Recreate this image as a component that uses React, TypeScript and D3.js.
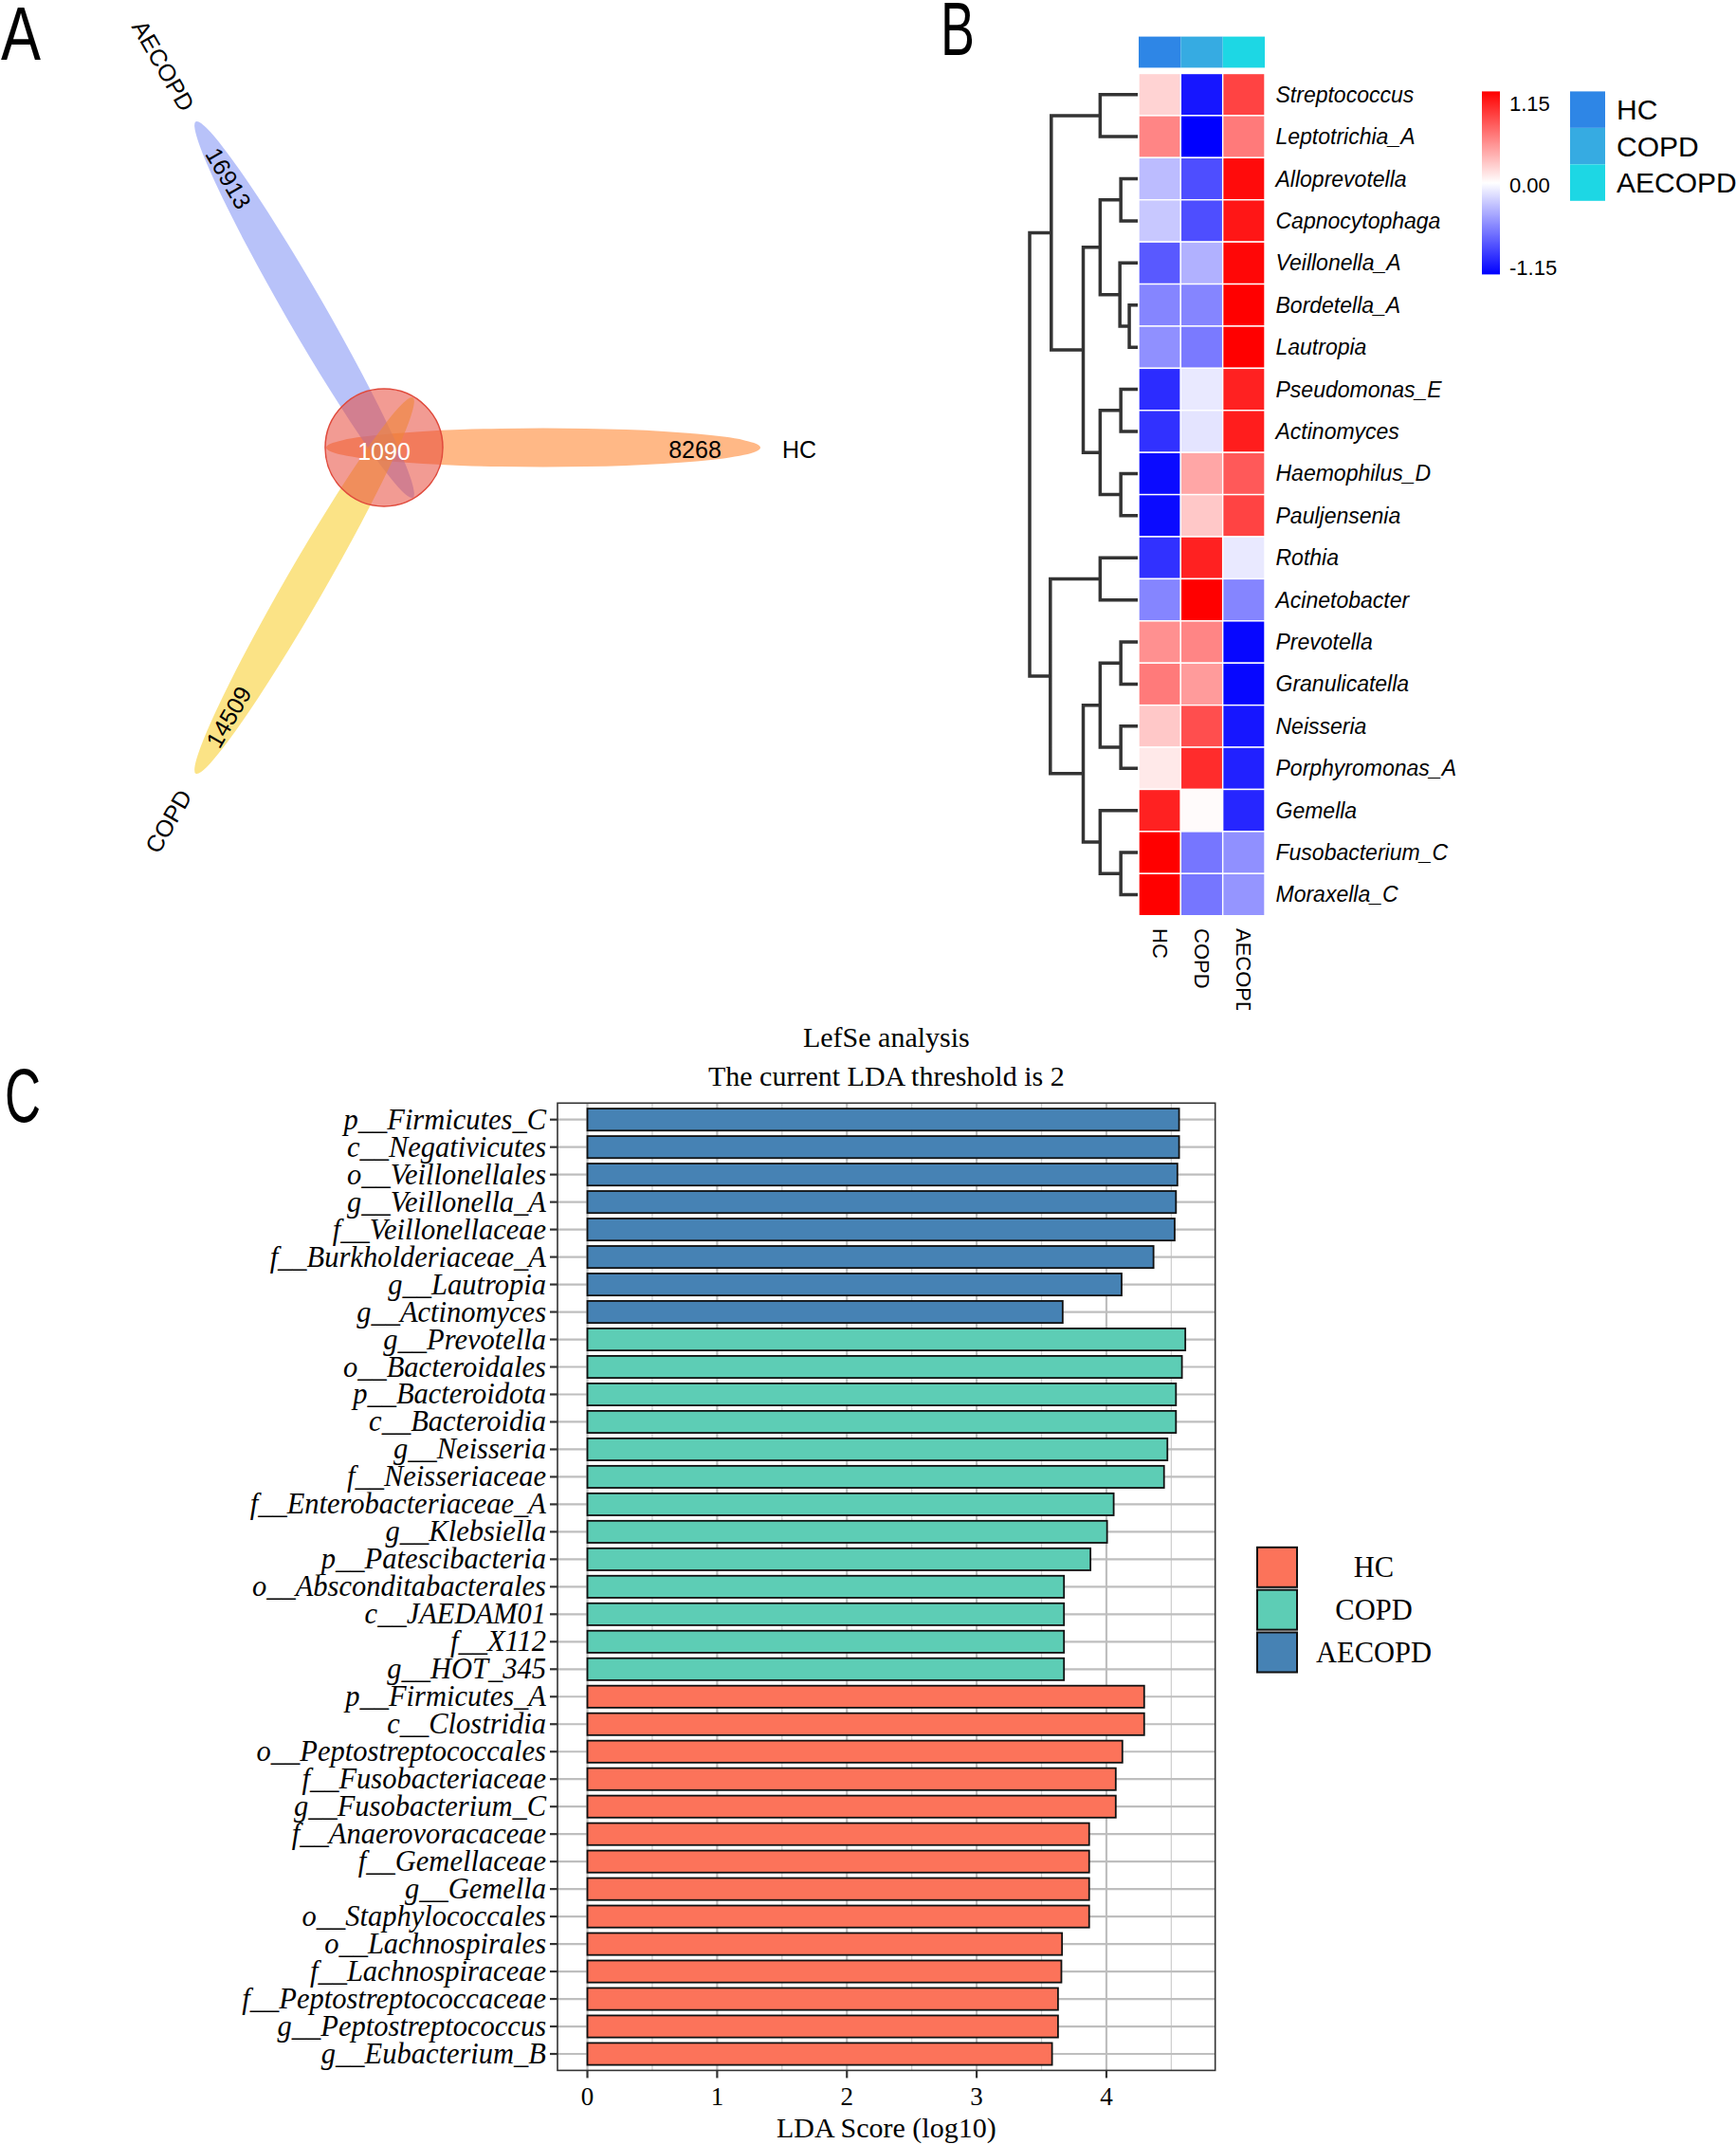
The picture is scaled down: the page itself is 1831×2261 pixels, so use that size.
import React from 'react';
import * as d3 from 'd3';

// ---------- Panel A: flower Venn ----------
const vennSets = ['HC', 'AECOPD', 'COPD'];
const vennUnique = [8268, 16913, 14509];
const vennAngles = [0, 240, 120];
const vennCore = 1090;
const vennFills = ['#FF8C3C', '#8C9CF5', '#F9D23C'];

// ---------- Panel B: heatmap ----------
const genera = [
  'Streptococcus', 'Leptotrichia_A', 'Alloprevotella', 'Capnocytophaga', 'Veillonella_A',
  'Bordetella_A', 'Lautropia', 'Pseudomonas_E', 'Actinomyces', 'Haemophilus_D',
  'Pauljensenia', 'Rothia', 'Acinetobacter', 'Prevotella', 'Granulicatella',
  'Neisseria', 'Porphyromonas_A', 'Gemella', 'Fusobacterium_C', 'Moraxella_C',
];
const heatGroups = ['HC', 'COPD', 'AECOPD'];
const hcZ = [0.2, 0.55, -0.3, -0.25, -0.75, -0.55, -0.5, -0.95, -0.93, -1.1, -1.1, -0.93, -0.55, 0.5, 0.6, 0.25, 0.1, 1.0, 1.15, 1.15];
const copdZ = [-1.05, -1.15, -0.8, -0.8, -0.35, -0.55, -0.6, -0.1, -0.12, 0.4, 0.25, 1.0, 1.15, 0.55, 0.45, 0.8, 0.95, 0.02, -0.62, -0.62];
const aecopdZ = [0.85, 0.6, 1.1, 1.05, 1.12, 1.15, 1.15, 1.0, 1.02, 0.75, 0.85, -0.1, -0.55, -1.12, -1.12, -1.05, -1.0, -0.98, -0.5, -0.48];
const groupColors = ['#2E86E6', '#36ABE2', '#1DD7E4'];
const colorbarTicks = [1.15, 0, -1.15];
const colorbarLabels = ['1.15', '0.00', '-1.15'];
// [left, right, height]; merges named m0..m18 in order
const dendroMerges: [string, string, number][] = [
  ['Streptococcus', 'Leptotrichia_A', 40],
  ['Alloprevotella', 'Capnocytophaga', 18],
  ['Bordetella_A', 'Lautropia', 9],
  ['Veillonella_A', 'm2', 19],
  ['m1', 'm3', 40],
  ['Pseudomonas_E', 'Actinomyces', 18],
  ['Haemophilus_D', 'Pauljensenia', 18],
  ['m5', 'm6', 40],
  ['m4', 'm7', 58],
  ['m0', 'm8', 92],
  ['Rothia', 'Acinetobacter', 40],
  ['Prevotella', 'Granulicatella', 18],
  ['Neisseria', 'Porphyromonas_A', 18],
  ['m11', 'm12', 40],
  ['Fusobacterium_C', 'Moraxella_C', 18],
  ['Gemella', 'm14', 40],
  ['m13', 'm15', 58],
  ['m10', 'm16', 93],
  ['m9', 'm17', 115],
];

// ---------- Panel C: LEfSe ----------
const lefseTaxa = [
  'p__Firmicutes_C', 'c__Negativicutes', 'o__Veillonellales', 'g__Veillonella_A', 'f__Veillonellaceae',
  'f__Burkholderiaceae_A', 'g__Lautropia', 'g__Actinomyces',
  'g__Prevotella', 'o__Bacteroidales', 'p__Bacteroidota', 'c__Bacteroidia', 'g__Neisseria',
  'f__Neisseriaceae', 'f__Enterobacteriaceae_A', 'g__Klebsiella', 'p__Patescibacteria',
  'o__Absconditabacterales', 'c__JAEDAM01', 'f__X112', 'g__HOT_345',
  'p__Firmicutes_A', 'c__Clostridia', 'o__Peptostreptococcales', 'f__Fusobacteriaceae',
  'g__Fusobacterium_C', 'f__Anaerovoracaceae', 'f__Gemellaceae', 'g__Gemella',
  'o__Staphylococcales', 'o__Lachnospirales', 'f__Lachnospiraceae', 'f__Peptostreptococcaceae',
  'g__Peptostreptococcus', 'g__Eubacterium_B',
];
const lefseScores = [
  4.56, 4.56, 4.547, 4.536, 4.526, 4.363, 4.117, 3.663,
  4.608, 4.582, 4.536, 4.536, 4.47, 4.444, 4.056, 4.005, 3.877,
  3.673, 3.673, 3.673, 3.673,
  4.291, 4.291, 4.123, 4.072, 4.072, 3.867, 3.867, 3.867, 3.867,
  3.658, 3.653, 3.627, 3.627, 3.581,
];
const lefseGroups = [
  ...Array(8).fill('AECOPD'),
  ...Array(13).fill('COPD'),
  ...Array(14).fill('HC'),
];
const lefseLegend = ['HC', 'COPD', 'AECOPD'];
const lefseColors = ['#FC735A', '#5DCDB5', '#4682B4'];
const ldaTicks = [0, 1, 2, 3, 4];
const ldaMinor = [0.5, 1.5, 2.5, 3.5, 4.5];

const panelLetters = ['A', 'B', 'C'];

const SANS = 'Liberation Sans, Arial, sans-serif';
const SERIF = 'Liberation Serif, Times New Roman, serif';

function VennPanel() {
  const cx = 405, cy = 472;
  const rad = (a: number) => (a * Math.PI) / 180;
  const numDist = 328;
  const labelDist = [438, 465, 455];
  return (
    <g>
      {vennSets.map((s, i) => {
        const a = vennAngles[i];
        const ex = cx + 168 * Math.cos(rad(a));
        const ey = cy + 168 * Math.sin(rad(a));
        return (
          <ellipse key={s} cx={ex} cy={ey} rx={229} ry={20.5}
            transform={`rotate(${a} ${ex} ${ey})`}
            fill={vennFills[i]} fillOpacity={0.62} />
        );
      })}
      <circle cx={cx} cy={cy} r={62} fill="#E8483A" fillOpacity={0.55} stroke="#E04A3C" strokeWidth={1.5} />
      <text x={cx} y={cy + 4} fill="#fff" fontFamily={SANS} fontSize={25} textAnchor="middle" dominantBaseline="central">{vennCore}</text>
      {vennSets.map((s, i) => {
        const a = vennAngles[i];
        const nx = cx + numDist * Math.cos(rad(a));
        const ny = cy + numDist * Math.sin(rad(a));
        const lx = cx + labelDist[i] * Math.cos(rad(a));
        const ly = cy + labelDist[i] * Math.sin(rad(a));
        const rot = a === 0 ? 0 : a === 240 ? 60 : -60;
        return (
          <g key={s}>
            <text x={nx} y={ny + (a === 0 ? 2 : 0)} fontFamily={SANS} fontSize={25} textAnchor="middle" dominantBaseline="central"
              transform={`rotate(${rot} ${nx} ${ny})`}>{vennUnique[i]}</text>
            <text x={lx} y={ly + (a === 0 ? 2 : 0)} fontFamily={SANS} fontSize={25} textAnchor="middle" dominantBaseline="central"
              transform={`rotate(${rot} ${lx} ${ly})`}>{s}</text>
          </g>
        );
      })}
    </g>
  );
}

function HeatmapPanel() {
  const x = d3.scaleBand<string>().domain(heatGroups).range([1201, 1334]);
  const y = d3.scaleBand<string>().domain(genera).range([77.5, 965.7]);
  const color = d3.scaleLinear<string>().domain([-1.15, 0, 1.15]).range(['#0000FF', '#FFFFFF', '#FF0000']);
  const values = [hcZ, copdZ, aecopdZ];
  const hx = d3.scaleLinear().domain([0, 115]).range([1200, 1086]);

  const pos: Record<string, { y: number; h: number }> = {};
  genera.forEach((g) => (pos[g] = { y: (y(g) as number) + y.bandwidth() / 2, h: 0 }));
  const paths: string[] = [];
  dendroMerges.forEach(([l, r, h], i) => {
    const a = pos[l], b = pos[r];
    const xn = hx(h);
    paths.push(`M${hx(a.h)},${a.y}H${xn}V${b.y}H${hx(b.h)}`);
    pos['m' + i] = { y: (a.y + b.y) / 2, h };
  });

  const cbScale = d3.scaleLinear().domain([-1.15, 1.15]).range([282, 109]);
  const legY = d3.scaleBand<string>().domain(heatGroups).range([96.4, 211.8]);

  return (
    <g clipPath="url(#clipB)">
      {heatGroups.map((g, i) => (
        <rect key={'ann' + g} x={x(g)} y={38.6} width={x.bandwidth()} height={32.8} fill={groupColors[i]} />
      ))}
      {heatGroups.map((g, i) =>
        genera.map((gen, j) => (
          <rect key={g + gen} x={x(g)} y={y(gen)} width={x.bandwidth()} height={y.bandwidth()}
            fill={color(values[i][j])} stroke="#fff" strokeWidth={1.4} />
        ))
      )}
      {genera.map((gen) => (
        <text key={'lab' + gen} x={1345.5} y={(y(gen) as number) + y.bandwidth() / 2}
          fontFamily={SANS} fontStyle="italic" fontSize={23} dominantBaseline="central">{gen}</text>
      ))}
      {heatGroups.map((g) => {
        const cx = (x(g) as number) + x.bandwidth() / 2;
        return (
          <text key={'col' + g} x={cx} y={979} fontFamily={SANS} fontSize={22}
            dominantBaseline="central" transform={`rotate(90 ${cx} 979)`}>{g}</text>
        );
      })}
      <path d={paths.join('')} fill="none" stroke="#333" strokeWidth={3.5} />
      <rect x={1563} y={96.4} width={19} height={193} fill="url(#cbGrad)" />
      {colorbarTicks.map((t, i) => (
        <text key={'cb' + i} x={1592} y={cbScale(t)} fontFamily={SANS} fontSize={22} dominantBaseline="central">{colorbarLabels[i]}</text>
      ))}
      {heatGroups.map((g, i) => (
        <g key={'leg' + g}>
          <rect x={1656} y={legY(g)} width={37} height={legY.bandwidth()} fill={groupColors[i]} />
          <text x={1705} y={(legY(g) as number) + legY.bandwidth() / 2} fontFamily={SANS} fontSize={30} dominantBaseline="central">{g}</text>
        </g>
      ))}
    </g>
  );
}

function LefsePanel() {
  const maxV = d3.max(lefseScores) as number;
  const left = 588, right = 1281.7, top = 1163.3, bottom = 2183.4;
  const x = d3.scaleLinear().domain([-0.05 * maxV, 1.05 * maxV]).range([left, right]);
  const y = d3.scalePoint<string>().domain(lefseTaxa).range([top, bottom]).padding(0.6);
  const bh = 0.8 * y.step();
  const colorOf = d3.scaleOrdinal<string, string>().domain(lefseLegend).range(lefseColors);
  const legY = d3.scalePoint<string>().domain(lefseLegend).range([1652.8, 1742.5]);
  const midX = (left + right) / 2;
  return (
    <g>
      <text x={midX} y={1104} fontFamily={SERIF} fontSize={30} textAnchor="middle">LefSe analysis</text>
      <text x={midX} y={1145} fontFamily={SERIF} fontSize={30} textAnchor="middle">The current LDA threshold is 2</text>
      {ldaMinor.map((t) => (
        <line key={'mn' + t} x1={x(t)} x2={x(t)} y1={top} y2={bottom} stroke="#D0D0D0" strokeWidth={1.3} />
      ))}
      {ldaTicks.map((t) => (
        <line key={'mj' + t} x1={x(t)} x2={x(t)} y1={top} y2={bottom} stroke="#BEBEBE" strokeWidth={2.2} />
      ))}
      {lefseTaxa.map((t) => (
        <line key={'hg' + t} x1={left} x2={right} y1={y(t)} y2={y(t)} stroke="#BEBEBE" strokeWidth={2.2} />
      ))}
      {lefseTaxa.map((t, i) => (
        <rect key={'bar' + t} x={x(0)} y={(y(t) as number) - bh / 2} width={x(lefseScores[i]) - x(0)} height={bh}
          fill={colorOf(lefseGroups[i])} stroke="#111" strokeWidth={1.8} />
      ))}
      <rect x={left} y={top} width={right - left} height={bottom - top} fill="none" stroke="#333" strokeWidth={1.6} />
      {lefseTaxa.map((t) => (
        <g key={'yl' + t}>
          <line x1={left - 8} x2={left} y1={y(t)} y2={y(t)} stroke="#333" strokeWidth={2.2} />
          <text x={576} y={y(t)} fontFamily={SERIF} fontStyle="italic" fontSize={30.5} textAnchor="end" dominantBaseline="central">{t}</text>
        </g>
      ))}
      {ldaTicks.map((t) => (
        <g key={'xt' + t}>
          <line x1={x(t)} x2={x(t)} y1={bottom} y2={bottom + 8} stroke="#333" strokeWidth={2.2} />
          <text x={x(t)} y={2220} fontFamily={SERIF} fontSize={27} textAnchor="middle">{t}</text>
        </g>
      ))}
      <text x={midX} y={2254} fontFamily={SERIF} fontSize={30} textAnchor="middle">LDA Score (log10)</text>
      {lefseLegend.map((g) => (
        <g key={'lg' + g}>
          <rect x={1326} y={(legY(g) as number) - 21} width={42} height={42} fill={colorOf(g)} stroke="#111" strokeWidth={2} />
          <text x={1449} y={legY(g)} fontFamily={SERIF} fontSize={30.5} textAnchor="middle" dominantBaseline="central">{g}</text>
        </g>
      ))}
    </g>
  );
}

export default function App() {
  const letterPos = [
    { x: 1, y: 63, w: 42 },
    { x: 992, y: 58, w: 36 },
    { x: 5, y: 1183, w: 38 },
  ];
  return (
    <svg width={1831} height={2261} viewBox="0 0 1831 2261"
      style={{ position: 'absolute', left: 0, top: 0, background: '#fff' }}>
      <defs>
        <linearGradient id="cbGrad" x1="0" y1="0" x2="0" y2="1">
          <stop offset="0%" stopColor="#FF0000" />
          <stop offset="50%" stopColor="#FFFFFF" />
          <stop offset="100%" stopColor="#0000FF" />
        </linearGradient>
        <clipPath id="clipB">
          <rect x={1000} y={0} width={831} height={1065} />
        </clipPath>
      </defs>
      <rect x={0} y={0} width={1831} height={2261} fill="#fff" />
      {panelLetters.map((l, i) => (
        <text key={l} x={letterPos[i].x} y={letterPos[i].y} fontFamily={SANS} fontSize={79}
          textLength={letterPos[i].w} lengthAdjust="spacingAndGlyphs">{l}</text>
      ))}
      <VennPanel />
      <HeatmapPanel />
      <LefsePanel />
    </svg>
  );
}
